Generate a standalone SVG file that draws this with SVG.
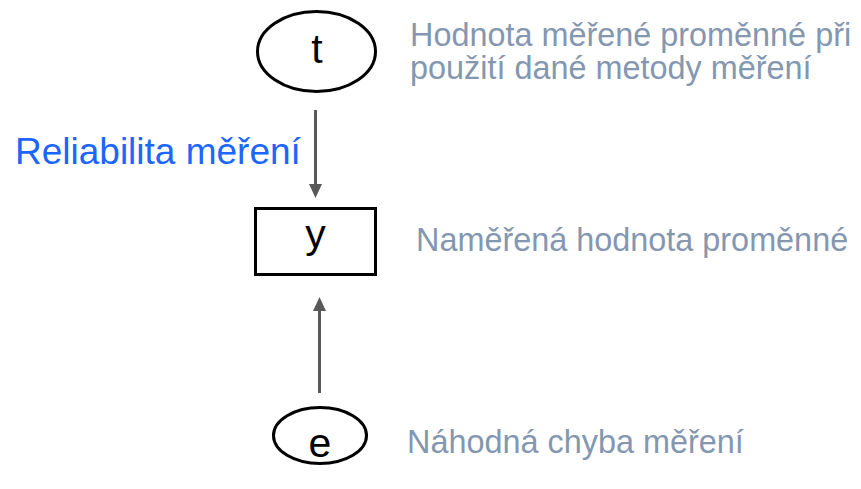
<svg xmlns="http://www.w3.org/2000/svg" width="861" height="489" viewBox="0 0 861 489">
<style>
.shape{fill:#fff;stroke:#000;stroke-width:3}
.var{font-family:"Liberation Sans",Arial,sans-serif;font-size:41px;fill:#000;text-anchor:middle}
.note{font-family:"Liberation Sans",Arial,sans-serif;font-size:32.4px;fill:#8497b0}
.rel{font-family:"Liberation Sans",Arial,sans-serif;font-size:37px;fill:#1a66ff}
.conn{stroke:#595959;stroke-width:3;fill:none}
</style>
<defs>
<marker id="arrow" markerUnits="userSpaceOnUse" markerWidth="16" markerHeight="16" viewBox="0 -8 16 16" refX="0" refY="0" orient="auto">
<path d="M0,-6.5 L14,0 L0,6.5 z" fill="#595959"/>
</marker>
</defs>
<rect width="861" height="489" fill="#fff"/>
<g id="connectors">
<line class="conn" x1="315.5" y1="110" x2="315.5" y2="184" marker-end="url(#arrow)"/>
<line class="conn" x1="319.5" y1="393" x2="319.5" y2="311" marker-end="url(#arrow)"/>
</g>
<g id="node-t">
<ellipse class="shape" cx="316.5" cy="51.5" rx="59" ry="40"/>
<text class="var" x="317" y="63">t</text>
</g>
<g id="node-y">
<rect class="shape" x="255.5" y="208.5" width="120" height="66"/>
<text class="var" x="315.5" y="248">y</text>
</g>
<g id="node-e">
<ellipse class="shape" cx="320" cy="435.5" rx="46.5" ry="28"/>
<text class="var" x="320" y="457">e</text>
</g>
<g id="label-reliabilita">
<text class="rel" x="15" y="164">Reliabilita měření</text>
</g>
<g id="label-t">
<text class="note" x="410" y="46">Hodnota měřené proměnné při</text>
<text class="note" x="410" y="79">použití dané metody měření</text>
</g>
<g id="label-y">
<text class="note" x="416" y="251">Naměřená hodnota proměnné</text>
</g>
<g id="label-e">
<text class="note" x="407" y="453">Náhodná chyba měření</text>
</g>
</svg>
